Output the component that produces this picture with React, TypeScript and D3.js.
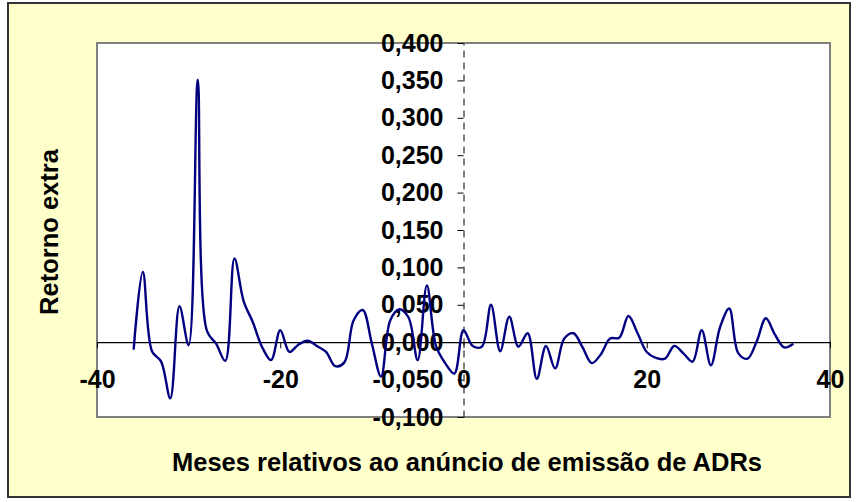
import React from 'react';
import { select, scaleLinear, line, curveCatmullRom, axisLeft, axisBottom, formatLocale } from 'd3';

const width = 857;
const height = 502;

// months relative to the ADR announcement
const months = [
  -36, -35, -34, -33, -32, -31, -30, -29, -28, -27, -26, -25, -24, -23, -22, -21, -20, -19,
  -18, -17, -16, -15, -14, -13, -12, -11, -10, -9, -8, -7, -6, -5, -4, -3, -2, -1,
  0, 1, 2, 3, 4, 5, 6, 7, 8, 9, 10, 11, 12, 13, 14, 15, 16, 17, 18,
  19, 20, 21, 22, 23, 24, 25, 26, 27, 28, 29, 30, 31, 32, 33, 34, 35, 36,
];

// retorno extra
const retorno = [
  -0.010, 0.094, -0.012, -0.026, -0.075, 0.048, -0.004, 0.351, 0.015, -0.002, -0.025, 0.112,
  0.055, 0.027, -0.006, -0.024, 0.016, -0.013, -0.003, 0.002, -0.005, -0.013, -0.032, -0.027,
  0.029, 0.043, -0.002, -0.046, 0.029, 0.044, 0.033, -0.024, 0.076, -0.005, -0.028, -0.042,
  0.016, -0.005, -0.006, 0.050, -0.012, 0.034, -0.006, 0.012, -0.049, -0.005, -0.035, 0.005,
  0.012, -0.007, -0.028, -0.016, 0.005, 0.006, 0.035, 0.012, -0.013, -0.021, -0.022, -0.005,
  -0.015, -0.026, 0.016, -0.031, 0.020, 0.045, -0.015, -0.022, 0.001, 0.032, 0.010, -0.007,
  -0.002,
];

const xTicks = [-40, -20, 0, 20, 40];
const yTicks = [-0.1, -0.05, 0, 0.05, 0.1, 0.15, 0.2, 0.25, 0.3, 0.35, 0.4];

const plot = { left: 97, top: 43, right: 830, bottom: 417 };

const ptBR = formatLocale({
  decimal: ',',
  thousands: '.',
  grouping: [3],
  currency: ['', ''],
  minus: '-',
});

const App: React.FC = () => {
  const svgRef = React.useRef<SVGSVGElement>(null);

  React.useEffect(() => {
    const svg = select(svgRef.current);
    svg.selectAll('*').remove();

    const xScale = scaleLinear().domain([-40, 40]).range([plot.left, plot.right]);
    const yScale = scaleLinear().domain([-0.1, 0.4]).range([plot.bottom, plot.top]);

    // chart area
    svg.append('rect')
      .attr('x', 8).attr('y', 3)
      .attr('width', 842).attr('height', 494)
      .attr('fill', '#FFFFCC')
      .attr('stroke', '#333')
      .attr('stroke-width', 2);

    // plot area
    svg.append('rect')
      .attr('x', plot.left).attr('y', plot.top)
      .attr('width', plot.right - plot.left).attr('height', plot.bottom - plot.top)
      .attr('fill', '#ffffff')
      .attr('stroke', '#808080')
      .attr('stroke-width', 2);

    const font = 'Liberation Sans, Arial, sans-serif';

    // x axis on y = 0
    const xAxisGroup = svg.append('g')
      .attr('transform', `translate(0, ${yScale(0)})`)
      .call(axisBottom(xScale).tickValues(xTicks).tickSize(6).tickSizeOuter(0).tickPadding(22)
        .tickFormat(d => ptBR.format('d')(d as number)));
    xAxisGroup.select('.domain').attr('stroke', '#000').attr('stroke-width', 1.2);
    xAxisGroup.selectAll('.tick line').attr('stroke', '#000');
    xAxisGroup.selectAll('.tick text')
      .attr('font-family', font).attr('font-size', 25).attr('font-weight', 'bold').attr('fill', '#000');

    // y axis on x = 0, dashed
    const yAxisGroup = svg.append('g')
      .attr('transform', `translate(${xScale(0)}, 0)`)
      .call(axisLeft(yScale).tickValues(yTicks).tickSize(6).tickSizeOuter(0).tickPadding(14)
        .tickFormat(d => ptBR.format('.3f')(d as number)));
    yAxisGroup.select('.domain').attr('stroke', '#000').attr('stroke-dasharray', '7,5');
    yAxisGroup.selectAll('.tick line').attr('stroke', '#000');
    yAxisGroup.selectAll('.tick text')
      .attr('font-family', font).attr('font-size', 25).attr('font-weight', 'bold').attr('fill', '#000');

    // series
    const pts = months.map((m, i) => [m, retorno[i]] as [number, number]);
    const lineGen = line<[number, number]>()
      .x(d => xScale(d[0]))
      .y(d => yScale(d[1]))
      .curve(curveCatmullRom.alpha(0.5));
    svg.append('path')
      .datum(pts)
      .attr('d', lineGen)
      .attr('fill', 'none')
      .attr('stroke', '#000080')
      .attr('stroke-width', 2.4);

    // titles
    svg.append('text')
      .attr('x', 467).attr('y', 471)
      .attr('text-anchor', 'middle')
      .attr('font-family', font).attr('font-size', 25.5).attr('font-weight', 'bold')
      .text('Meses relativos ao anúncio de emissão de ADRs');

    svg.append('text')
      .attr('transform', 'translate(58, 232) rotate(-90)')
      .attr('text-anchor', 'middle')
      .attr('font-family', font).attr('font-size', 25.5).attr('font-weight', 'bold')
      .text('Retorno extra');
  }, []);

  return (
    <div style={{ position: 'absolute', left: 0, top: 0 }}>
      <svg ref={svgRef} width={width} height={height} />
    </div>
  );
};

export default App;
